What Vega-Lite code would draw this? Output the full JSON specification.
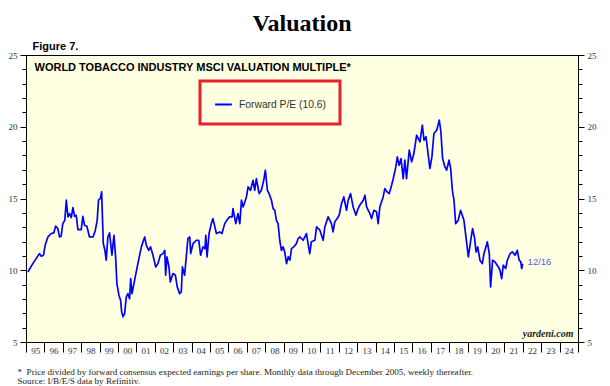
{
  "$schema": "https://vega.github.io/schema/vega-lite/v6.json",
  "width": 552,
  "height": 287,
  "autosize": {"type": "none"},
  "padding": {"left": 26, "top": 55, "right": 32, "bottom": 44},
  "background": "white",
  "title": {"text": "Valuation", "font": "Liberation Serif", "fontSize": 24, "fontWeight": "bold", "color": "#000", "anchor": "middle", "frame": "group", "baseline": "alphabetic", "offset": 0, "dy": 15},
  "config": {
    "view": {"fill": "#ffffe2", "stroke": "#000", "strokeWidth": 1},
    "axis": {"grid": false, "domainColor": "#000", "tickColor": "#000", "labelFont": "Liberation Serif", "labelFontSize": 9, "labelColor": "#333"},
    "axisX": {
      "tickSize": 10,
      "ticks": true,
      "labelExpr": "datum.value < 2025 ? slice(toString(datum.value), 2) : ''",
      "labelOffset": 9.2,
      "labelPadding": -6,
      "labelFlush": false,
      "labelOverlap": false,
      "labelBound": false
    },
    "legend": {"strokeWidth": 3}
  },
  "datasets": {
    "pe": [
      {"year": 1995.10, "value": 9.88}, {"year": 1995.37, "value": 10.46}, {"year": 1995.55, "value": 10.81}, {"year": 1995.73, "value": 11.16}, {"year": 1995.83, "value": 10.98}, {"year": 1995.95, "value": 11.05},
      {"year": 1996.04, "value": 11.74}, {"year": 1996.19, "value": 12.32}, {"year": 1996.37, "value": 12.56}, {"year": 1996.51, "value": 12.60}, {"year": 1996.61, "value": 13.07}, {"year": 1996.73, "value": 12.91}, {"year": 1996.82, "value": 12.32}, {"year": 1996.91, "value": 12.37},
      {"year": 1997.00, "value": 13.25}, {"year": 1997.11, "value": 13.48}, {"year": 1997.19, "value": 14.88}, {"year": 1997.28, "value": 13.72}, {"year": 1997.37, "value": 13.95}, {"year": 1997.46, "value": 13.67}, {"year": 1997.55, "value": 14.37}, {"year": 1997.64, "value": 13.76}, {"year": 1997.73, "value": 13.83}, {"year": 1997.82, "value": 12.83},
      {"year": 1998.00, "value": 12.83}, {"year": 1998.09, "value": 13.76}, {"year": 1998.18, "value": 13.14}, {"year": 1998.31, "value": 13.07}, {"year": 1998.45, "value": 12.32}, {"year": 1998.64, "value": 12.32}, {"year": 1998.76, "value": 12.74}, {"year": 1998.87, "value": 13.48}, {"year": 1998.94, "value": 14.88},
      {"year": 1999.04, "value": 15.00}, {"year": 1999.11, "value": 15.46}, {"year": 1999.20, "value": 11.86}, {"year": 1999.29, "value": 11.39}, {"year": 1999.36, "value": 10.70}, {"year": 1999.45, "value": 12.32}, {"year": 1999.54, "value": 12.60}, {"year": 1999.67, "value": 11.05}, {"year": 1999.78, "value": 12.44}, {"year": 1999.87, "value": 10.93}, {"year": 1999.94, "value": 9.07},
      {"year": 2000.05, "value": 8.26}, {"year": 2000.14, "value": 7.91}, {"year": 2000.20, "value": 7.10}, {"year": 2000.27, "value": 6.75}, {"year": 2000.36, "value": 6.98}, {"year": 2000.45, "value": 8.14}, {"year": 2000.54, "value": 8.37}, {"year": 2000.63, "value": 8.02}, {"year": 2000.69, "value": 9.42}, {"year": 2000.76, "value": 8.37}, {"year": 2000.90, "value": 9.30},
      {"year": 2001.08, "value": 10.46}, {"year": 2001.27, "value": 11.63}, {"year": 2001.36, "value": 11.98}, {"year": 2001.45, "value": 12.32}, {"year": 2001.54, "value": 11.74}, {"year": 2001.67, "value": 11.39}, {"year": 2001.77, "value": 11.63}, {"year": 2001.90, "value": 11.05},
      {"year": 2002.05, "value": 10.23}, {"year": 2002.17, "value": 10.46}, {"year": 2002.30, "value": 11.05}, {"year": 2002.44, "value": 11.16}, {"year": 2002.54, "value": 11.39}, {"year": 2002.59, "value": 9.65}, {"year": 2002.66, "value": 10.93}, {"year": 2002.77, "value": 10.23}, {"year": 2002.84, "value": 9.19}, {"year": 2002.99, "value": 9.77},
      {"year": 2003.12, "value": 9.65}, {"year": 2003.22, "value": 8.84}, {"year": 2003.35, "value": 8.37}, {"year": 2003.44, "value": 8.49}, {"year": 2003.50, "value": 10.23}, {"year": 2003.62, "value": 9.65}, {"year": 2003.80, "value": 12.21}, {"year": 2003.90, "value": 12.32}, {"year": 2003.95, "value": 11.16},
      {"year": 2004.08, "value": 11.86}, {"year": 2004.26, "value": 12.09}, {"year": 2004.39, "value": 12.09}, {"year": 2004.49, "value": 11.05}, {"year": 2004.62, "value": 11.63}, {"year": 2004.73, "value": 11.51}, {"year": 2004.77, "value": 12.44}, {"year": 2004.84, "value": 10.93}, {"year": 2004.95, "value": 12.56},
      {"year": 2005.07, "value": 13.25}, {"year": 2005.16, "value": 13.60}, {"year": 2005.35, "value": 12.56}, {"year": 2005.53, "value": 12.67}, {"year": 2005.65, "value": 12.56}, {"year": 2005.80, "value": 13.25}, {"year": 2005.98, "value": 13.60},
      {"year": 2006.07, "value": 13.72}, {"year": 2006.20, "value": 13.72}, {"year": 2006.25, "value": 14.30}, {"year": 2006.40, "value": 13.25}, {"year": 2006.52, "value": 13.95}, {"year": 2006.62, "value": 13.25}, {"year": 2006.71, "value": 14.88}, {"year": 2006.80, "value": 14.41}, {"year": 2006.98, "value": 15.11},
      {"year": 2007.07, "value": 15.81}, {"year": 2007.20, "value": 15.57}, {"year": 2007.34, "value": 16.27}, {"year": 2007.43, "value": 15.57}, {"year": 2007.52, "value": 16.39}, {"year": 2007.67, "value": 15.34}, {"year": 2007.79, "value": 15.57}, {"year": 2007.92, "value": 16.27},
      {"year": 2008.01, "value": 16.97}, {"year": 2008.12, "value": 15.57}, {"year": 2008.21, "value": 15.34}, {"year": 2008.34, "value": 14.88}, {"year": 2008.43, "value": 14.30}, {"year": 2008.52, "value": 14.18}, {"year": 2008.61, "value": 13.48}, {"year": 2008.70, "value": 13.25}, {"year": 2008.79, "value": 12.09}, {"year": 2008.88, "value": 11.39}, {"year": 2008.97, "value": 11.63},
      {"year": 2009.06, "value": 11.28}, {"year": 2009.16, "value": 10.46}, {"year": 2009.25, "value": 10.93}, {"year": 2009.34, "value": 10.70}, {"year": 2009.43, "value": 11.51}, {"year": 2009.55, "value": 11.63}, {"year": 2009.70, "value": 11.86}, {"year": 2009.79, "value": 12.21}, {"year": 2009.88, "value": 12.32},
      {"year": 2010.06, "value": 12.09}, {"year": 2010.24, "value": 12.56}, {"year": 2010.42, "value": 11.16}, {"year": 2010.51, "value": 11.98}, {"year": 2010.70, "value": 12.09}, {"year": 2010.79, "value": 13.02}, {"year": 2010.97, "value": 12.79},
      {"year": 2011.15, "value": 12.09}, {"year": 2011.24, "value": 13.02}, {"year": 2011.42, "value": 13.72}, {"year": 2011.60, "value": 13.25}, {"year": 2011.69, "value": 12.67}, {"year": 2011.78, "value": 13.37}, {"year": 2011.91, "value": 13.60},
      {"year": 2012.02, "value": 13.83}, {"year": 2012.15, "value": 14.65}, {"year": 2012.27, "value": 15.11}, {"year": 2012.42, "value": 14.18}, {"year": 2012.51, "value": 14.88}, {"year": 2012.64, "value": 15.34}, {"year": 2012.78, "value": 14.41}, {"year": 2012.93, "value": 13.83},
      {"year": 2013.05, "value": 14.30}, {"year": 2013.14, "value": 14.53}, {"year": 2013.33, "value": 14.88}, {"year": 2013.42, "value": 15.23}, {"year": 2013.51, "value": 14.41}, {"year": 2013.69, "value": 13.95}, {"year": 2013.78, "value": 13.60}, {"year": 2013.91, "value": 14.18},
      {"year": 2014.05, "value": 14.07}, {"year": 2014.14, "value": 13.25}, {"year": 2014.23, "value": 14.41}, {"year": 2014.41, "value": 15.11}, {"year": 2014.50, "value": 15.69}, {"year": 2014.63, "value": 15.46}, {"year": 2014.74, "value": 15.34}, {"year": 2014.87, "value": 15.92}, {"year": 2014.96, "value": 16.39},
      {"year": 2015.10, "value": 17.20}, {"year": 2015.18, "value": 17.90}, {"year": 2015.28, "value": 17.32}, {"year": 2015.38, "value": 17.78}, {"year": 2015.50, "value": 16.39}, {"year": 2015.59, "value": 17.67}, {"year": 2015.68, "value": 16.39}, {"year": 2015.83, "value": 18.37}, {"year": 2015.96, "value": 17.55},
      {"year": 2016.08, "value": 18.13}, {"year": 2016.23, "value": 19.41}, {"year": 2016.32, "value": 19.18}, {"year": 2016.41, "value": 18.95}, {"year": 2016.54, "value": 20.11}, {"year": 2016.63, "value": 19.06}, {"year": 2016.74, "value": 19.30}, {"year": 2016.86, "value": 18.02}, {"year": 2016.95, "value": 17.09},
      {"year": 2017.06, "value": 17.90}, {"year": 2017.17, "value": 19.53}, {"year": 2017.32, "value": 19.76}, {"year": 2017.46, "value": 20.46}, {"year": 2017.55, "value": 19.65}, {"year": 2017.64, "value": 17.78}, {"year": 2017.77, "value": 17.20}, {"year": 2017.86, "value": 16.97}, {"year": 2017.99, "value": 17.67},
      {"year": 2018.08, "value": 17.09}, {"year": 2018.17, "value": 15.58}, {"year": 2018.26, "value": 14.88}, {"year": 2018.35, "value": 13.25}, {"year": 2018.49, "value": 13.48}, {"year": 2018.62, "value": 14.18}, {"year": 2018.71, "value": 13.83}, {"year": 2018.80, "value": 13.48}, {"year": 2018.91, "value": 12.32},
      {"year": 2019.04, "value": 10.93}, {"year": 2019.17, "value": 12.09}, {"year": 2019.27, "value": 12.90}, {"year": 2019.37, "value": 12.32}, {"year": 2019.46, "value": 11.28}, {"year": 2019.55, "value": 11.63}, {"year": 2019.67, "value": 10.70}, {"year": 2019.80, "value": 10.46}, {"year": 2019.89, "value": 11.16},
      {"year": 2020.00, "value": 11.63}, {"year": 2020.07, "value": 11.98}, {"year": 2020.18, "value": 11.16}, {"year": 2020.25, "value": 8.84}, {"year": 2020.36, "value": 10.70}, {"year": 2020.49, "value": 10.58}, {"year": 2020.67, "value": 10.23}, {"year": 2020.76, "value": 10.00}, {"year": 2020.85, "value": 9.42}, {"year": 2020.94, "value": 10.35},
      {"year": 2021.07, "value": 10.12}, {"year": 2021.16, "value": 10.70}, {"year": 2021.31, "value": 11.16}, {"year": 2021.43, "value": 11.28}, {"year": 2021.58, "value": 11.05}, {"year": 2021.70, "value": 11.39}, {"year": 2021.80, "value": 10.70}, {"year": 2021.89, "value": 10.58}, {"year": 2021.94, "value": 10.12}, {"year": 2021.99, "value": 10.46}
    ]
  },
  "layer": [
    {
      "data": {"name": "pe"},
      "mark": {"type": "line", "strokeWidth": 1.7, "strokeJoin": "round"},
      "encoding": {
        "x": {
          "field": "year", "type": "quantitative",
          "scale": {"domain": [1995, 2025], "nice": false, "zero": false},
          "axis": {
            "values": [1995, 1996, 1997, 1998, 1999, 2000, 2001, 2002, 2003, 2004, 2005, 2006, 2007, 2008, 2009, 2010, 2011, 2012, 2013, 2014, 2015, 2016, 2017, 2018, 2019, 2020, 2021, 2022, 2023, 2024, 2025],
            "tickSize": 10,
            "labelOverlap": false,
            "title": ["*\u00a0\u00a0Price divided by forward consensus expected earnings per share. Monthly data through December 2005, weekly thereafter.", "\u00a0\u00a0\u00a0\u00a0Source: I/B/E/S data by Refinitiv."],
            "titleX": -9,
            "titleY": 32,
            "titleAlign": "left",
            "titleAnchor": "start",
            "titleBaseline": "alphabetic",
            "titleFont": "Liberation Serif",
            "titleFontSize": 9.1,
            "titleFontWeight": "normal",
            "titleColor": "#222",
            "titleLineHeight": 9
          }
        },
        "y": {
          "field": "value", "type": "quantitative",
          "scale": {"domain": [5, 25], "nice": false, "zero": false},
          "axis": {
            "orient": "left",
            "values": [5, 6, 7, 8, 9, 10, 11, 12, 13, 14, 15, 16, 17, 18, 19, 20, 21, 22, 23, 24, 25],
            "tickSize": {"condition": {"test": "datum.value % 5 === 0", "value": 6}, "value": 4},
            "labelExpr": "datum.value % 5 === 0 ? datum.label : ''",
            "labelPadding": 3,
            "labelOverlap": false,
            "labelBound": false,
            "title": "Figure 7.",
            "titleAngle": 0,
            "titleX": 6,
            "titleY": -6,
            "titleAlign": "left",
            "titleBaseline": "alphabetic",
            "titleFont": "Liberation Sans",
            "titleFontSize": 11,
            "titleFontWeight": "bold",
            "titleColor": "#000"
          }
        },
        "color": {
          "datum": "Forward P/E (10.6)",
          "scale": {"range": ["#0000ff"]},
          "legend": {
            "orient": "none", "legendX": 174, "legendY": 26, "title": null,
            "symbolType": "stroke", "symbolSize": 280, "symbolStrokeWidth": 2,
            "labelFont": "Liberation Sans", "labelFontSize": 10.3, "labelColor": "#333", "labelOffset": 6,
            "padding": 14, "strokeColor": "#e8202a"
          }
        }
      }
    },
    {
      "data": {"values": [{"year": 2021.99, "value": 10.46, "label": "12/16"}]},
      "mark": {"type": "text", "align": "left", "baseline": "middle", "dx": 5, "dy": -2, "font": "Liberation Sans", "fontSize": 9.5, "color": "#5a5aff"},
      "encoding": {
        "x": {"field": "year", "type": "quantitative", "axis": {"values": [1995, 1996, 1997, 1998, 1999, 2000, 2001, 2002, 2003, 2004, 2005, 2006, 2007, 2008, 2009, 2010, 2011, 2012, 2013, 2014, 2015, 2016, 2017, 2018, 2019, 2020, 2021, 2022, 2023, 2024, 2025], "tickSize": 10, "labelOverlap": false}},
        "y": {
          "field": "value", "type": "quantitative",
          "scale": {"domain": [5, 25], "nice": false, "zero": false},
          "axis": {
            "orient": "right",
            "values": [5, 6, 7, 8, 9, 10, 11, 12, 13, 14, 15, 16, 17, 18, 19, 20, 21, 22, 23, 24, 25],
            "tickSize": {"condition": {"test": "datum.value % 5 === 0", "value": 6}, "value": 4},
            "labelExpr": "datum.value % 5 === 0 ? datum.label : ''",
            "labelPadding": 3,
            "labelOverlap": false,
            "labelBound": false,
            "title": "WORLD TOBACCO INDUSTRY MSCI VALUATION MULTIPLE*",
            "titleAngle": 0,
            "titleX": -544,
            "titleY": 15,
            "titleAlign": "left",
            "titleBaseline": "alphabetic",
            "titleFont": "Liberation Sans",
            "titleFontSize": 11,
            "titleFontWeight": "bold",
            "titleColor": "#000"
          }
        },
        "text": {"field": "label"}
      }
    },
    {
      "data": {"values": [{"year": 2024.76, "value": 5.35, "label": "yardeni.com"}]},
      "mark": {"type": "text", "align": "right", "baseline": "alphabetic", "font": "Liberation Serif", "fontStyle": "italic", "fontWeight": "bold", "fontSize": 10, "color": "#222"},
      "encoding": {
        "x": {"field": "year", "type": "quantitative", "axis": {"values": [1995, 1996, 1997, 1998, 1999, 2000, 2001, 2002, 2003, 2004, 2005, 2006, 2007, 2008, 2009, 2010, 2011, 2012, 2013, 2014, 2015, 2016, 2017, 2018, 2019, 2020, 2021, 2022, 2023, 2024, 2025], "tickSize": 10, "labelOverlap": false}},
        "y": {"field": "value", "type": "quantitative", "scale": {"domain": [5, 25], "nice": false, "zero": false}, "axis": null},
        "text": {"field": "label"}
      }
    }
  ],
  "resolve": {"scale": {"y": "independent"}}
}
